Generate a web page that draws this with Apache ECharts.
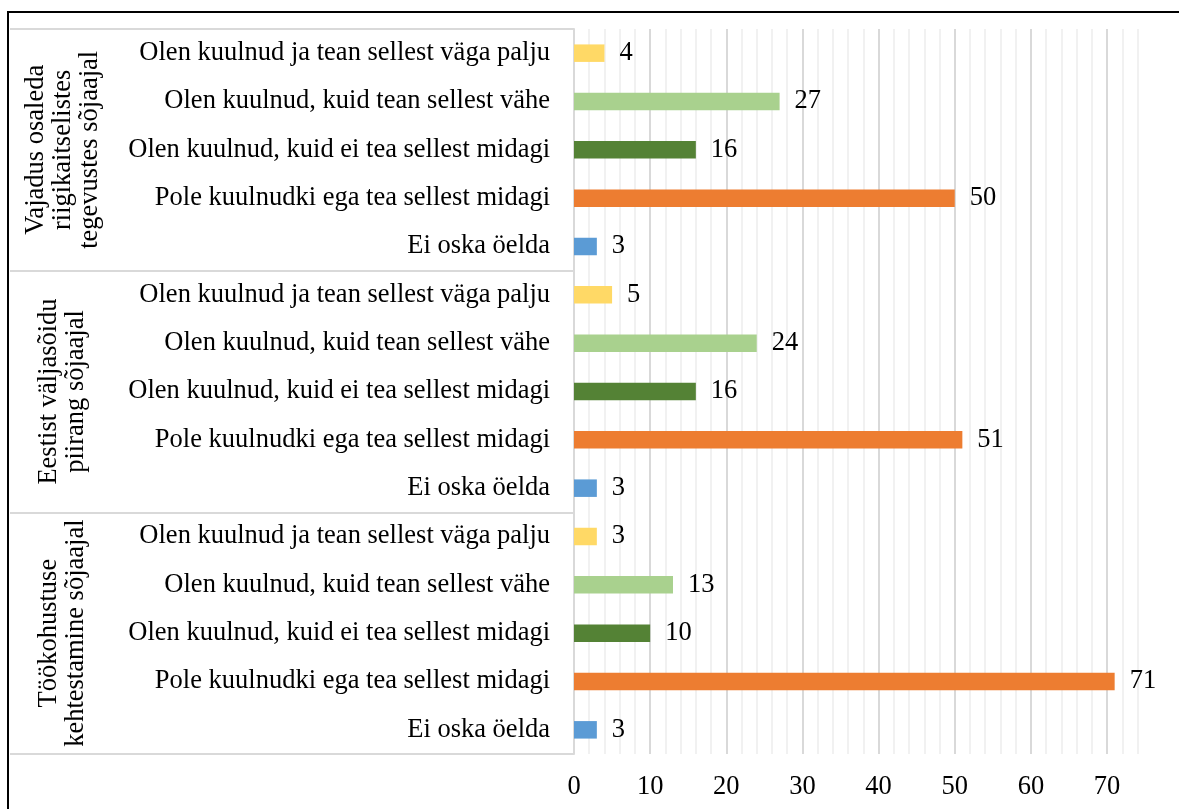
<!DOCTYPE html>
<html>
<head>
<meta charset="utf-8">
<script src="https://cdn.jsdelivr.net/npm/echarts@6/dist/echarts.min.js"></script>
<style>
  html, body { margin: 0; padding: 0; background: #fff; overflow: hidden; }
  #frame { position: absolute; left: 7px; top: 11px; width: 1400px; height: 1000px;
           border-left: 2px solid #000; border-top: 2px solid #000; }
  #chart { position: absolute; left: 0; top: 0; width: 1179px; height: 809px; }
</style>
</head>
<body>
<div id="frame"></div>
<div id="chart"></div>
<script>
// küsimuste grupid (ülevalt alla)
const groups = [
  "Vajadus osaleda\nriigikaitselistes\ntegevustes sõjaajal",
  "Eestist väljasõidu\npiirang sõjaajal",
  "Töökohustuse\nkehtestamine sõjaajal"
];
// vastusevariandid igas grupis (ülevalt alla)
const answers = [
  "Olen kuulnud ja tean sellest väga palju",
  "Olen kuulnud, kuid tean sellest vähe",
  "Olen kuulnud, kuid ei tea sellest midagi",
  "Pole kuulnudki ega tea sellest midagi",
  "Ei oska öelda"
];
const answerColors = ["#FFD966", "#A9D18E", "#548235", "#ED7D31", "#5B9BD5"];
// väärtused grupiti, järjekord nagu answers
const values1 = [4, 27, 16, 50, 3];
const values2 = [5, 24, 16, 51, 3];
const values3 = [3, 13, 10, 71, 3];
const xTicks = [0, 10, 20, 30, 40, 50, 60, 70];

const font = "'Liberation Serif', 'Times New Roman', serif";
const allValues = [values1, values2, values3];

const cats = [];
const data = [];
allValues.forEach((vals, g) => {
  vals.forEach((v, i) => {
    cats.push(g + "|" + answers[i]);
    data.push({ value: v, itemStyle: { color: answerColors[i] } });
  });
});

const chart = echarts.init(document.getElementById("chart"));
const option = {
  backgroundColor: "transparent",
  animation: false,
  grid: { left: 574, top: 29, right: 41.5, bottom: 55, containLabel: false },
  xAxis: [
    {
      type: "value", min: 0, max: 74, interval: 2, position: "bottom",
      axisLabel: { show: false }, axisLine: { show: false }, axisTick: { show: false },
      splitLine: { lineStyle: { color: "#ececec", width: 1.5 } }
    },
    {
      type: "value", min: xTicks[0], max: 74, interval: 10, position: "bottom",
      axisLine: { show: false }, axisTick: { show: false },
      splitLine: { show: true, showMaxLine: false, lineStyle: { color: "#d9d9d9", width: 2 } },
      axisLabel: {
        showMaxLabel: false, margin: 20, color: "#000", fontFamily: font, fontSize: 26.5,
        formatter: (v) => (xTicks.indexOf(v) >= 0 ? String(v) : "")
      }
    }
  ],
  yAxis: [
    {
      type: "category", data: cats, inverse: true,
      axisLine: { show: true, lineStyle: { color: "#d9d9d9", width: 2 } },
      // gruppide eraldusjooned tabelis
      axisTick: {
        show: true, inside: false, length: 564,
        interval: (idx) => idx % answers.length === 0,
        lineStyle: { color: "#d9d9d9", width: 2 }
      },
      splitLine: { show: false },
      axisLabel: {
        interval: 0, margin: 24, color: "#000", fontFamily: font, fontSize: 26.5,
        formatter: (v) => v.split("|")[1]
      }
    },
    {
      type: "category", data: groups, inverse: true, position: "left", offset: 564,
      axisLine: { show: false },
      splitLine: { show: false },
      axisTick: { show: false },
      axisLabel: {
        inside: true, interval: 0, rotate: 90, margin: 53, align: "center", verticalAlign: "middle",
        color: "#000", fontFamily: font, fontSize: 26.5, lineHeight: 27
      }
    }
  ],
  series: [
    {
      type: "bar", xAxisIndex: 1, yAxisIndex: 0, barWidth: 17.5,
      data: data,
      label: { show: true, position: "right", distance: 15, color: "#000", fontFamily: font, fontSize: 26.5 }
    }
  ]
};
chart.setOption(option);
</script>
</body>
</html>
